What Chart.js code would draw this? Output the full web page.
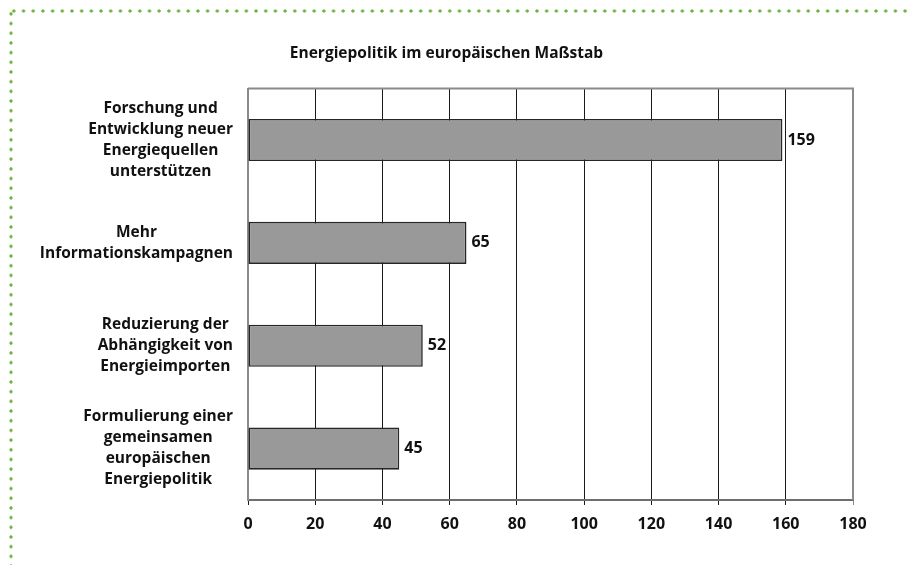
<!DOCTYPE html>
<html>
<head>
<meta charset="utf-8">
<script src="https://cdn.jsdelivr.net/npm/chart.js@4/dist/chart.umd.min.js"></script>
<style>
  html, body { margin: 0; padding: 0; background: #fff; }
  #wrap { position: relative; width: 908px; height: 565px; overflow: hidden; }
  #c { position: absolute; left: 0; top: 0; }
  .dots-h { position: absolute; left: 9px; top: 9px; width: 899px; height: 4px;
    background-image: radial-gradient(circle, #6cb33f 1.4px, rgba(255,255,255,0) 1.8px);
    background-size: 9.7px 4px; background-repeat: repeat-x; }
  .dots-v { position: absolute; left: 9px; top: 9px; width: 4px; height: 556px;
    background-image: radial-gradient(circle, #6cb33f 1.4px, rgba(255,255,255,0) 1.8px);
    background-size: 4px 9.7px; background-repeat: repeat-y; }
</style>
</head>
<body>
<div id="wrap">
  <canvas id="c" width="908" height="565"></canvas>
  <div class="dots-h"></div>
  <div class="dots-v"></div>
</div>
<script>
const titleText = 'Energiepolitik im europäischen Maßstab';
const categories = [
  ['Forschung und', 'Entwicklung neuer', 'Energiequellen', 'unterstützen'],
  ['Mehr', 'Informationskampagnen'],
  ['Reduzierung der', 'Abhängigkeit von', 'Energieimporten'],
  ['Formulierung einer', 'gemeinsamen', 'europäischen', 'Energiepolitik']
];
const values = [159, 65, 52, 45];
const xMin = 0, xMax = 180, xStep = 20;

const FONT = "'Open Sans', 'DejaVu Sans', sans-serif";
const TEXT_SIZE = 15.5;
const NUM_SIZE = 16;

// Category labels: each label block centred on its own widest line, block right-aligned to the axis
const categoryLabels = {
  id: 'categoryLabels',
  afterDraw(chart) {
    const ctx = chart.ctx;
    const yScale = chart.scales.y;
    const right = yScale.right - 15;
    const lh = 21;
    ctx.save();
    ctx.font = 'bold ' + TEXT_SIZE + 'px ' + FONT;
    ctx.fillStyle = '#111';
    ctx.textAlign = 'center';
    ctx.textBaseline = 'middle';
    categories.forEach((lines, i) => {
      const yc = yScale.getPixelForTick(i);
      const w = Math.max(...lines.map(l => ctx.measureText(l).width));
      const xc = right - w / 2;
      const y0 = yc - (lines.length - 1) * lh / 2;
      lines.forEach((l, j) => ctx.fillText(l, xc, y0 + j * lh));
    });
    ctx.restore();
  }
};

const valueLabels = {
  id: 'valueLabels',
  afterDatasetsDraw(chart) {
    const ctx = chart.ctx;
    const meta = chart.getDatasetMeta(0);
    ctx.save();
    ctx.font = 'bold ' + NUM_SIZE + 'px ' + FONT;
    ctx.fillStyle = '#111';
    ctx.textAlign = 'left';
    ctx.textBaseline = 'middle';
    meta.data.forEach((el, i) => {
      ctx.fillText(String(values[i]), el.x + 5, el.y);
    });
    ctx.restore();
  }
};

const plotFrame = {
  id: 'plotFrame',
  afterDatasetsDraw(chart) {
    const a = chart.chartArea, ctx = chart.ctx;
    ctx.save();
    ctx.strokeStyle = '#8a8a8a';
    ctx.lineWidth = 2;
    ctx.beginPath();
    ctx.moveTo(a.left, a.top);
    ctx.lineTo(a.right, a.top);
    ctx.lineTo(a.right, a.bottom);
    ctx.stroke();
    ctx.restore();
  }
};

new Chart(document.getElementById('c'), {
  type: 'bar',
  data: {
    labels: categories,
    datasets: [{
      data: values,
      backgroundColor: '#999999',
      borderColor: '#262626',
      borderWidth: 1.6,
      borderSkipped: false,
      categoryPercentage: 1,
      barPercentage: 0.41
    }]
  },
  options: {
    indexAxis: 'y',
    responsive: false,
    animation: false,
    layout: { padding: { left: 40, right: 55, top: 0, bottom: 0 } },
    plugins: {
      legend: { display: false },
      tooltip: { enabled: false },
      title: {
        display: true,
        text: titleText,
        color: '#111',
        font: { family: FONT, size: TEXT_SIZE, weight: 'bold' },
        padding: { top: 44, bottom: 26 }
      }
    },
    scales: {
      x: {
        min: xMin, max: xMax,
        ticks: {
          stepSize: xStep,
          color: '#111',
          padding: 10,
          font: { family: FONT, size: NUM_SIZE, weight: 'bold' }
        },
        grid: {
          color: (c) => (c.tick && c.tick.value === xMax) ? '#8a8a8a' : '#1a1a1a',
          lineWidth: 1,
          tickLength: 5
        },
        border: { color: '#6e6e6e', width: 2 },
        afterFit(s) { s.height = 65; }
      },
      y: {
        ticks: { display: false },
        grid: { display: false, drawTicks: false },
        border: { color: '#8a8a8a', width: 2 },
        afterFit(s) { s.width = 208; }
      }
    }
  },
  plugins: [valueLabels, plotFrame, categoryLabels]
});
</script>
</body>
</html>
